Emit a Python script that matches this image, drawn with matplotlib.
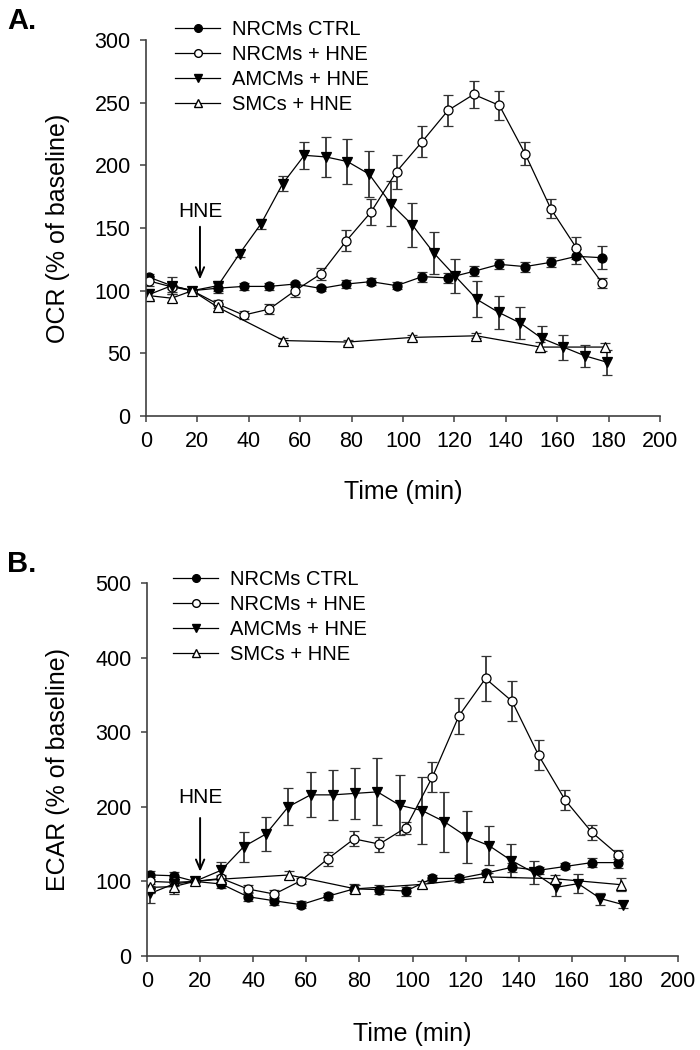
import matplotlib
matplotlib.use("Agg")
import matplotlib.pyplot as plt
from matplotlib.lines import Line2D

plt.rcParams['font.family'] = ['Liberation Sans', 'DejaVu Sans']

# ---- time points (min) ----
T_MAIN = [1.3, 10, 18, 28, 38, 48, 58, 68, 78, 87.5, 97.5, 107.5, 117.5, 127.5,
          137.5, 147.5, 157.5, 167.5, 177.5]
T_AMCM = [1.3, 10, 18, 28, 36.4, 44.8, 53.2, 61.6, 70, 78.4, 86.8, 95.2, 103.6,
          112, 120.4, 128.8, 137.2, 145.6, 154, 162.4, 170.8, 179.2]
T_SMC = [1.3, 10, 18, 28, 53.5, 78.5, 103.5, 128.5, 153.5, 178.5]

LABELS = ["NRCMs CTRL", "NRCMs + HNE", "AMCMs + HNE", "SMCs + HNE"]

# ---- panel A: OCR ----
OCR_CTRL = [110.6, 104, 100, 102, 103.4, 103.4, 105.3, 101.8, 105.3, 107.2, 104,
            111.2, 110.2, 115.4, 121, 119.2, 122.6, 127.4, 126.3]
OCR_CTRL_ERR = [3, 3, 0, 4, 3, 3, 2, 2, 3, 3, 3, 4, 4, 4, 4, 4, 4, 6, 9]
OCR_NRCM = [107.7, 103, 100, 89.3, 80.5, 85.3, 100, 113.3, 139.9, 162.6, 195,
            219, 243.8, 256.6, 247.8, 209.3, 165.4, 134, 106.1]
OCR_NRCM_ERR = [4, 4, 0, 3, 3, 4, 5, 5, 8.4, 10.6, 13.6, 12, 12.7, 10.6, 11.3,
                9.3, 7.4, 9, 4]
OCR_AMCM = [97, 104, 100, 104, 129.5, 153.5, 185.4, 208, 206.7, 203, 193, 169.5,
            152.5, 130, 111.4, 93, 82.7, 74.2, 62, 55, 48, 43]
OCR_AMCM_ERR = [4, 6.6, 0, 4, 3, 4, 6, 10.6, 16, 18, 18.6, 18, 17.7, 16.6, 13.6,
                14.4, 13, 13, 10, 10, 9, 10]
OCR_SMC = [96, 94, 100, 86.7, 60.2, 59, 62.7, 64, 55, 55]
OCR_SMC_ERR = [4.6, 3, 0, 3, 2, 2, 2, 2, 4, 3]

# ---- panel B: ECAR ----
ECAR_CTRL = [108.6, 107.6, 100, 96.5, 79.5, 74, 68.8, 80, 90, 89, 87, 104, 104,
             110.9, 119, 114.9, 120, 125.2, 125.2]
ECAR_CTRL_ERR = [6, 5, 0, 5, 6, 5, 5, 5, 6, 6, 6, 5, 5, 5, 6, 5, 4, 6, 7]
ECAR_NRCM = [100, 98.7, 100, 104, 89.8, 83, 101, 130, 157, 150, 172, 240, 322,
             372, 341.5, 269, 209, 166, 135.5]
ECAR_NRCM_ERR = [6, 5, 0, 5, 5, 5, 4, 9, 10, 10, 8, 20, 24, 30, 27, 20, 13, 10, 6]
ECAR_AMCM = [84, 96.5, 100, 115, 146.5, 163.5, 200, 216, 216, 218, 220, 202, 195,
             180, 160, 148, 128, 112, 92, 97, 77, 69]
ECAR_AMCM_ERR = [12.5, 8, 0, 11, 20, 23, 25, 30, 34, 34, 45, 40, 45, 40, 35, 26,
                 22, 16, 11, 13, 8, 5]
ECAR_SMC = [92, 93, 100, 103, 108.6, 90, 96, 106, 103.6, 95.6]
ECAR_SMC_ERR = [8, 10, 0, 4, 5.6, 5, 5, 5, 5, 9]

STYLES = [dict(marker='o', mfc='black', ms=6.5),
          dict(marker='o', mfc='white', ms=6.5),
          dict(marker='v', mfc='black', ms=7.5),
          dict(marker='^', mfc='white', ms=7.5)]

SPINE = '#404040'

fig = plt.figure(figsize=(7, 10.5), dpi=100)
W, H = 700, 1050


def make_ax(x0, x1, y_top, y_bot):
    return fig.add_axes([x0 / W, 1 - y_bot / H, (x1 - x0) / W, (y_bot - y_top) / H])


axA = make_ax(146, 660, 40, 416)
axB = make_ax(147, 678, 583, 956)


def draw(ax, series, ymax, ystep, ylabel, hne_y, arrow_from, arrow_to, x_arrow,
         legend_xy, letter, letter_y):
    for (t, v, e), st in zip(series, STYLES):
        ax.errorbar(t, v, yerr=e, fmt='-', color='black', lw=0.9,
                    marker=st['marker'], mfc=st['mfc'], mec='black', mew=0.9,
                    ms=st['ms'], ecolor='#333333', elinewidth=1.3,
                    capsize=3.8, capthick=1.3)
    ax.set_xlim(0, 200)
    ax.set_ylim(0, ymax)
    ax.set_xticks(range(0, 201, 20))
    ax.set_yticks(range(0, ymax + 1, ystep))
    for s in ['top', 'right']:
        ax.spines[s].set_visible(False)
    for s in ['left', 'bottom']:
        ax.spines[s].set_color(SPINE)
        ax.spines[s].set_linewidth(1.2)
    ax.tick_params(direction='out', length=4, width=1.1, color=SPINE,
                   labelsize=15.5, pad=7)
    ax.set_xlabel('Time (min)', fontsize=18)
    ax.set_ylabel(ylabel, fontsize=18)
    ax.annotate('', xy=(x_arrow, arrow_to), xytext=(x_arrow, arrow_from),
                arrowprops=dict(arrowstyle='->,head_length=0.7,head_width=0.3',
                                lw=1.4, color='black', shrinkA=0, shrinkB=0))
    ax.text(x_arrow, hne_y, 'HNE', ha='center', va='center', fontsize=15)
    handles = [Line2D([], [], color='black', lw=0.9, marker=st['marker'],
                      mfc=st['mfc'], mec='black', ms=st['ms'] * 0.85)
               for st in STYLES]
    fig.legend(handles, LABELS, loc='upper left',
               bbox_to_anchor=(legend_xy[0] / W, 1 - legend_xy[1] / H),
               frameon=False, fontsize=14.5, handlelength=2.25,
               handletextpad=0.6, labelspacing=0.3, borderpad=0,
               borderaxespad=0)
    fig.text(7 / W, 1 - letter_y / H, letter, fontsize=21, fontweight='bold',
             ha='left', va='center')


draw(axA, [(T_MAIN, OCR_CTRL, OCR_CTRL_ERR), (T_MAIN, OCR_NRCM, OCR_NRCM_ERR),
           (T_AMCM, OCR_AMCM, OCR_AMCM_ERR), (T_SMC, OCR_SMC, OCR_SMC_ERR)],
     300, 50, 'OCR (% of baseline)', 163, 151, 109, 21,
     (175, 20), 'A.', 21)
draw(axB, [(T_MAIN, ECAR_CTRL, ECAR_CTRL_ERR), (T_MAIN, ECAR_NRCM, ECAR_NRCM_ERR),
           (T_AMCM, ECAR_AMCM, ECAR_AMCM_ERR), (T_SMC, ECAR_SMC, ECAR_SMC_ERR)],
     500, 100, 'ECAR (% of baseline)', 212, 185, 113, 20,
     (173, 570), 'B.', 564)

axA.xaxis.set_label_coords(0.5, -0.17)
axB.xaxis.set_label_coords(0.5, -0.178)
axA.yaxis.set_label_coords(-0.148, 0.5)
axB.yaxis.set_label_coords(-0.145, 0.5)

fig.savefig('out.png', dpi=100)
